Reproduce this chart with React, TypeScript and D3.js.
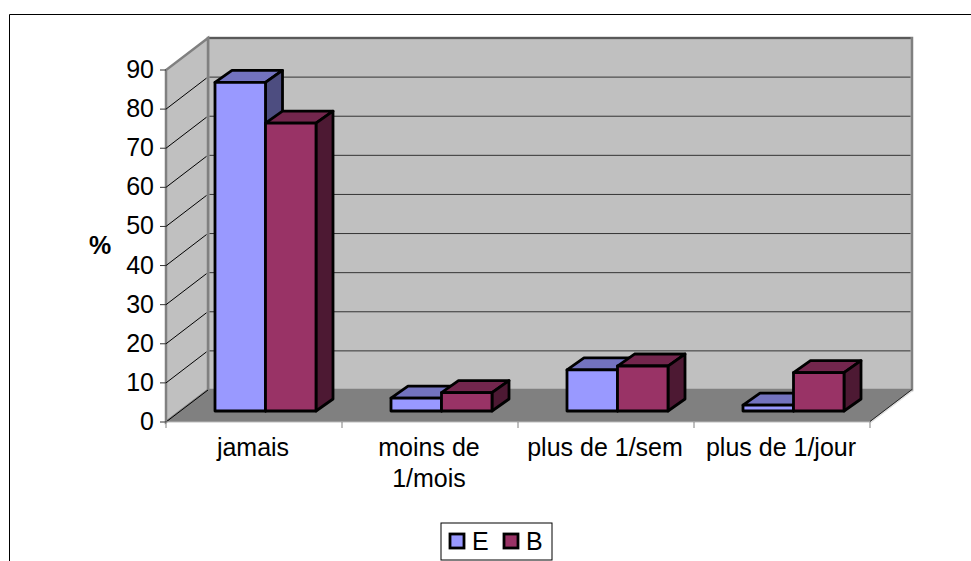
import React from "react";
import * as d3 from "d3";

const categories = ["jamais", "moins de|1/mois", "plus de 1/sem", "plus de 1/jour"];
const seriesE = [84, 3.3, 10.5, 1.5];
const seriesB = [73.6, 4.7, 11.5, 9.8];
const yTicks = [0, 10, 20, 30, 40, 50, 60, 70, 80, 90];
const FONT = "'Liberation Sans', Arial, sans-serif";

const W = 971, H = 561;
const x0 = 166, x1 = 870, yBase = 422, yTop = 70;
const DX = 42, DY = 32;
const y = d3.scaleLinear().domain([0, 90]).range([yBase, yTop]);
const x = d3.scaleBand().domain(categories).range([x0, x1]).paddingInner(0).paddingOuter(0);
const barFrontDX = 14.5, barFrontDY = 11;
const barDX = 17, barDY = 12;
const barW = 50.5;
const pad = 34.5;

const poly = (pts: [number, number][]) => pts.map((p) => p.join(",")).join(" ");

function Bar({ left, v, front, top, side }: { left: number; v: number; front: string; top: string; side: string }) {
  const b = yBase - barFrontDY;
  const t = y(v) - barFrontDY;
  const r = left + barW;
  const s = { stroke: "#000", strokeWidth: 2.8, strokeLinejoin: "round" as const };
  return (
    <g>
      <polygon points={poly([[left, t], [left + barDX, t - barDY], [r + barDX, t - barDY], [r, t]])} fill={top} {...s} />
      <polygon points={poly([[r, t], [r + barDX, t - barDY], [r + barDX, b - barDY], [r, b]])} fill={side} {...s} />
      <rect x={left} y={t} width={barW} height={b - t} fill={front} {...s} />
    </g>
  );
}

export default function App() {
  const bw = x.bandwidth();
  return (
    <svg width={W} height={H} style={{ position: "absolute", left: 0, top: 0, background: "#fff" }} fontFamily={FONT}>
      <path d={`M9.5 ${H} V14.5 H${W}`} fill="none" stroke="#000" strokeWidth={1} />
      {/* floor */}
      <polygon points={poly([[x0, yBase], [x0 + DX, yBase - DY], [x1 + DX, yBase - DY], [x1, yBase]])} fill="#808080" />
      {/* back wall */}
      <rect x={x0 + DX} y={yTop - DY} width={x1 - x0} height={yBase - yTop} fill="#c0c0c0" stroke="#808080" strokeWidth={2.5} />
      {/* side wall */}
      <polygon points={poly([[x0, yBase], [x0 + DX, yBase - DY], [x0 + DX, yTop - DY], [x0, yTop]])} fill="#c0c0c0" stroke="#808080" strokeWidth={2.5} />
      {/* grid */}
      {yTicks.slice(1).map((t) => (
        <g key={t}>
          <line x1={x0 + DX + 1.5} x2={x1 + DX - 1.5} y1={y(t) - DY} y2={y(t) - DY} stroke="#333" strokeWidth={1} />
          {t < 90 && <line x1={x0} x2={x0 + DX - 1.5} y1={y(t)} y2={y(t) - DY + 1} stroke="#000" strokeWidth={1} />}
        </g>
      ))}
      <line x1={x0} x2={x0 + DX} y1={yBase} y2={yBase - DY} stroke="#000" strokeWidth={1} />
      <polygon points={poly([[x1, yBase], [x1 + DX, yBase - DY], [x1 + DX + 1, yBase - DY + 1], [x1 + 1, yBase + 1]])} fill="#ddd" />
      <line x1={x1} x2={x1 + DX} y1={yBase - 0.5} y2={yBase - DY - 0.5} stroke="#222" strokeWidth={1} />
      <line x1={x0} x2={x1} y1={yBase} y2={yBase} stroke="#bbb" strokeWidth={1} />
      {/* axis */}
      {yTicks.map((t) => (
        <g key={t}>
          <line x1={x0 - 6} x2={x0} y1={y(t)} y2={y(t)} stroke="#333" strokeWidth={1} />
          <text x={x0 - 12} y={y(t) + 8} textAnchor="end" fontSize={25} fill="#000">{t}</text>
        </g>
      ))}
      {d3.range(categories.length + 1).map((i) => (
        <line key={i} x1={x0 + i * bw} x2={x0 + i * bw} y1={yBase} y2={yBase + 6} stroke="#808080" strokeWidth={1} />
      ))}
      <text x={100} y={254} textAnchor="middle" fontSize={25} fontWeight="bold" fill="#000">%</text>
      {/* bars */}
      {categories.map((c, i) => {
        const l = (x(c) as number) + barFrontDX + pad;
        return (
          <g key={c}>
            <Bar left={l} v={seriesE[i]} front="#9999ff" top="#7373bf" side="#4d4d80" />
            <Bar left={l + barW} v={seriesB[i]} front="#993366" top="#73264d" side="#4d1933" />
          </g>
        );
      })}
      {/* category labels */}
      {categories.map((c) => {
        const cx = (x(c) as number) + bw / 2 - 1;
        return c.split("|").map((ln, k) => (
          <text key={ln} x={cx} y={456 + k * 31} textAnchor="middle" fontSize={25} fill="#000">{ln}</text>
        ));
      })}
      {/* legend */}
      <rect x={441} y={523} width={111} height={37} fill="#fff" stroke="#000" strokeWidth={1} />
      <rect x={450} y={534} width={14} height={14} fill="#9999ff" stroke="#000" strokeWidth={2.8} />
      <text x={472} y={550} fontSize={25} fill="#000">E</text>
      <rect x={504} y={534} width={14} height={14} fill="#993366" stroke="#000" strokeWidth={2.8} />
      <text x={526} y={550} fontSize={25} fill="#000">B</text>
    </svg>
  );
}
